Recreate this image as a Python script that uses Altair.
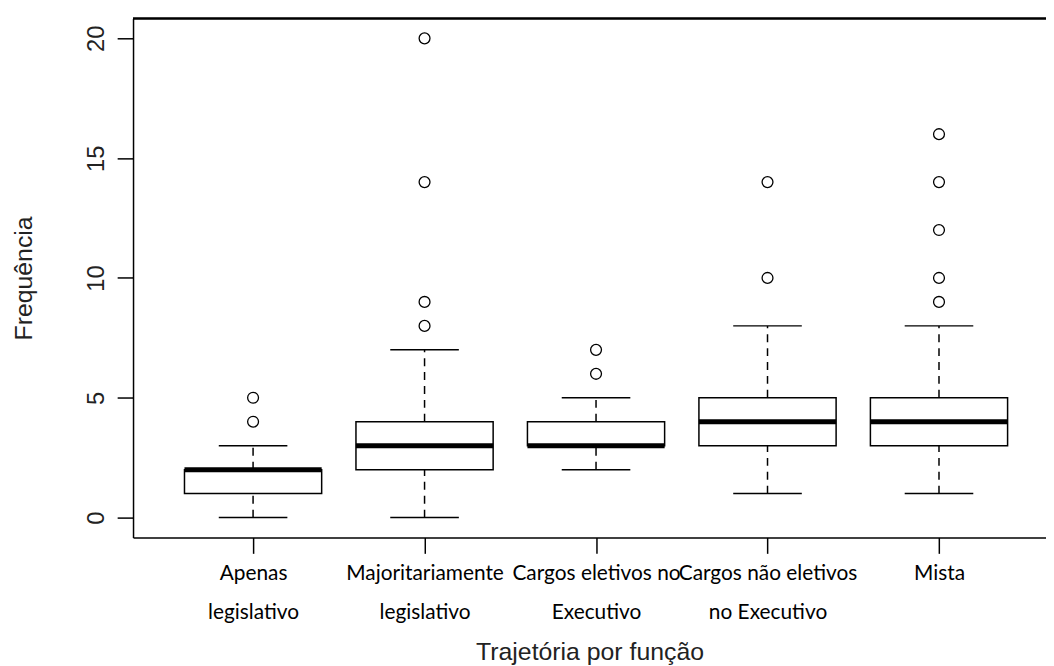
import json
import altair as alt
import pandas as pd

# ---- data ----
label_line1 = ["Apenas", "Majoritariamente", "Cargos eletivos no", "Cargos não eletivos", "Mista"]
label_line2 = ["legislativo", "legislativo", "Executivo", "no Executivo", ""]
positions = [1, 2, 3, 4, 5]
whisker_low = [0, 0, 2, 1, 1]
q1 = [1, 2, 3, 3, 3]
median = [2, 3, 3, 4, 4]
q3 = [2, 4, 4, 5, 5]
whisker_high = [3, 7, 5, 8, 8]
outliers = [[4, 5], [8, 9, 14, 20], [6, 7], [10, 14], [9, 10, 12, 14, 16]]
y_ticks = [0, 5, 10, 15, 20]

boxes = pd.DataFrame({
    "pos": positions, "lo": whisker_low, "q1": q1, "med": median,
    "q3": q3, "hi": whisker_high,
})
out_rows = [{"pos": p, "v": v} for p, vals in zip(positions, outliers) for v in vals]
outs = pd.DataFrame(out_rows)

labels = [a + ("|" + b if b else "") for a, b in zip(label_line1, label_line2)]
label_expr = "split(" + json.dumps(labels) + "[datum.value - 1], '|')"

W, H = 920, 523
xscale = alt.Scale(domain=[0.3, 5.624], nice=False, zero=False)
yscale = alt.Scale(domain=[-0.83, 20.83], nice=False, zero=False)

xaxis = alt.Axis(
    values=positions, labelExpr=label_expr, title="Trajetória por função",
    grid=False, domain=True, domainColor="black", domainWidth=1.5,
    ticks=True, tickColor="black", tickWidth=1.5, tickSize=16,
    labelFont="Lato", labelFontSize=21, labelColor="black", labelLimit=1000,
    labelBaseline="top", labelPadding=9, labelLineHeight=40, labelAlign="center",
    labelOverlap=False, labelFlush=False,
    titleFont="Liberation Sans", titleFontSize=25, titleFontWeight="normal",
    titleColor="#222", titleX=W / 2, titleY=123, titleAlign="center",
    titleBaseline="alphabetic",
)
yaxis = alt.Axis(
    values=y_ticks, title="Frequência", grid=False,
    domain=True, domainColor="black", domainWidth=1.5,
    ticks=True, tickColor="black", tickWidth=1.5, tickSize=16,
    labelFont="Liberation Sans", labelFontSize=24, labelColor="#222",
    labelAngle=270, labelAlign="center", labelBaseline="alphabetic", labelPadding=14,
    titleFont="Liberation Sans", titleFontSize=25, titleFontWeight="normal",
    titleColor="#222", titleAngle=270, titleX=-110, titleY=H / 2,
    titleAlign="center", titleBaseline="middle",
)

base = alt.Chart(boxes).transform_calculate(
    left="datum.pos - 0.4", right="datum.pos + 0.4",
    capl="datum.pos - 0.2", capr="datum.pos + 0.2",
)

box = base.mark_rect(fill="white", stroke="black", strokeWidth=1.5).encode(
    x=alt.X("left:Q", scale=xscale, axis=xaxis),
    x2="right:Q",
    y=alt.Y("q1:Q", scale=yscale, axis=yaxis),
    y2="q3:Q",
)
med = base.mark_rule(color="black", strokeWidth=5, strokeCap="butt").encode(
    x=alt.X("left:Q", scale=xscale), x2="right:Q",
    y=alt.Y("med:Q", scale=yscale),
)
wh_up = base.mark_rule(color="black", strokeWidth=1.5, strokeDash=[8, 6]).encode(
    x=alt.X("pos:Q", scale=xscale),
    y=alt.Y("q3:Q", scale=yscale), y2="hi:Q",
)
wh_lo = base.mark_rule(color="black", strokeWidth=1.5, strokeDash=[8, 6]).encode(
    x=alt.X("pos:Q", scale=xscale),
    y=alt.Y("lo:Q", scale=yscale), y2="q1:Q",
)
cap_hi = base.mark_rule(color="black", strokeWidth=1.5).encode(
    x=alt.X("capl:Q", scale=xscale), x2="capr:Q",
    y=alt.Y("hi:Q", scale=yscale),
)
cap_lo = base.mark_rule(color="black", strokeWidth=1.5).encode(
    x=alt.X("capl:Q", scale=xscale), x2="capr:Q",
    y=alt.Y("lo:Q", scale=yscale),
)
pts = alt.Chart(outs).mark_point(
    shape="circle", filled=False, color="black", size=120, strokeWidth=1.3, opacity=1
).encode(
    x=alt.X("pos:Q", scale=xscale),
    y=alt.Y("v:Q", scale=yscale),
)
top_border = alt.Chart(boxes).mark_rule(color="black", strokeWidth=1.5).encode(
    x=alt.value(0), x2=alt.value(W), y=alt.value(0)
)

chart = alt.layer(box, wh_up, wh_lo, cap_hi, cap_lo, med, pts, top_border).properties(
    width=W, height=H,
    autosize=alt.AutoSizeParams(type="none"),
    padding={"left": 126, "top": 8, "right": 0, "bottom": 127},
    background="white",
).configure_view(stroke=None)

chart.save("out.html", embed_options={"renderer": "svg", "actions": False})
